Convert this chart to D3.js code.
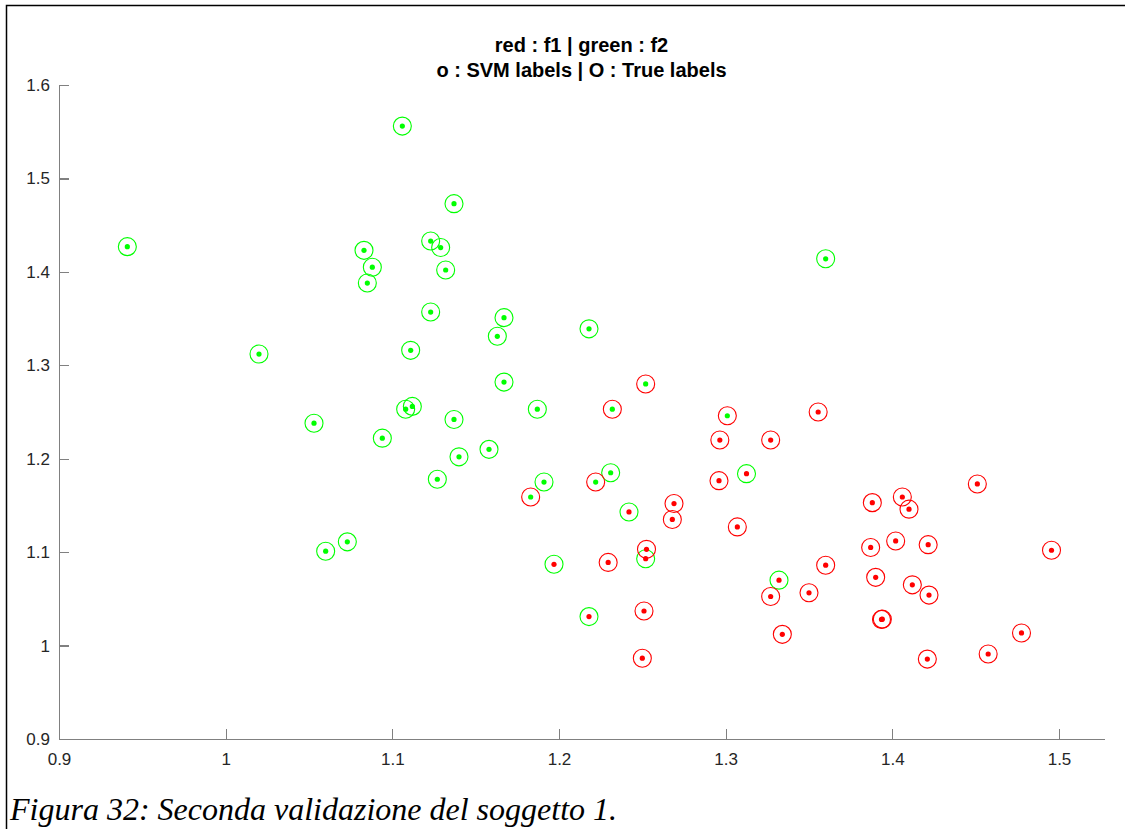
<!DOCTYPE html>
<html>
<head>
<meta charset="utf-8">
<script src="https://cdn.jsdelivr.net/npm/d3@7"></script>
<style>
  body { margin: 0; background: #fff; overflow: hidden; }
  svg { display: block; }
</style>
</head>
<body>
<script>
// data: feature values, SVM label and true label (1 = f1 red, 2 = f2 green)
var xVals = [0.941, 1.106, 1.137, 1.123, 1.129, 1.083, 1.088, 1.132, 1.085, 1.360,
             1.123, 1.167, 1.163, 1.020, 1.111, 1.167, 1.108, 1.112, 1.187, 1.053,
             1.137, 1.094, 1.140, 1.158, 1.127, 1.191, 1.060, 1.073, 1.218, 1.231,
             1.183, 1.252, 1.232, 1.301, 1.222,
             1.3125, 1.242, 1.252, 1.197, 1.332, 1.218,
             1.3555, 1.2965, 1.327, 1.296, 1.451, 1.388, 1.406, 1.410, 1.269, 1.268,
             1.307, 1.387, 1.402, 1.4215, 1.4955, 1.2525, 1.2295, 1.360, 1.390, 1.412,
             1.251, 1.250, 1.327, 1.350, 1.334, 1.3935, 1.394, 1.422, 1.421, 1.4575, 1.4775];
var yVals = [1.427, 1.556, 1.473, 1.433, 1.426, 1.423, 1.405, 1.402, 1.388, 1.414,
             1.357, 1.351, 1.331, 1.312, 1.316, 1.282, 1.253, 1.256, 1.253, 1.238,
             1.242, 1.222, 1.202, 1.210, 1.178, 1.175, 1.101, 1.111, 1.339, 1.185,
             1.159, 1.280, 1.253, 1.246, 1.175,
             1.184, 1.143, 1.093, 1.087, 1.070, 1.031,
             1.250, 1.220, 1.220, 1.1765, 1.173, 1.153, 1.159, 1.146, 1.152, 1.135,
             1.127, 1.105, 1.112, 1.108, 1.102, 1.103, 1.089, 1.086, 1.073, 1.065,
             1.037, 0.9865, 1.0525, 1.0565, 1.012, 1.028, 1.0283, 1.054, 0.9855, 0.991, 1.0135];
var svmLab = [2,2,2,2,2,2,2,2,2,2, 2,2,2,2,2,2,2,2,2,2, 2,2,2,2,2,2,2,2,2,2,
              2,2,2,2,2,
              1,1,1,1,1,1,
              1,1,1,1,1,1,1,1,1,1, 1,1,1,1,1,1,1,1,1,1, 1,1,1,1,1,1,1,1,1,1,1];
var trueLab = [2,2,2,2,2,2,2,2,2,2, 2,2,2,2,2,2,2,2,2,2, 2,2,2,2,2,2,2,2,2,2,
               1,1,1,1,1,
               2,2,2,2,2,2,
               1,1,1,1,1,1,1,1,1,1, 1,1,1,1,1,1,1,1,1,1, 1,1,1,1,1,1,1,1,1,1,1];
var xTicks = [0.9, 1, 1.1, 1.2, 1.3, 1.4, 1.5];
var yTicks = [0.9, 1, 1.1, 1.2, 1.3, 1.4, 1.5, 1.6];
var titleLines = ["red : f1 | green : f2", "o : SVM labels | O : True labels"];
var caption = "Figura 32: Seconda validazione del soggetto 1.";

var width = 1125, height = 829;
var colorOf = {1: "#ff0000", 2: "#00ff00"};

var svg = d3.select("body").append("svg")
    .attr("width", width)
    .attr("height", height);

// page frame (only top and left edges visible)
svg.append("rect")
    .attr("x", 6.5).attr("y", 5.5)
    .attr("width", 1300).attr("height", 1000)
    .attr("fill", "none")
    .attr("stroke", "#000")
    .attr("stroke-width", 1.5);

var x = d3.scaleLinear().domain([0.9, 1.527]).range([59, 1104]);
var y = d3.scaleLinear().domain([0.9, 1.6]).range([739, 85]);

var fmt = function(d){ return String(+d.toFixed(1)); };

var gx = svg.append("g")
    .attr("transform", "translate(0," + y(0.9) + ")")
    .call(d3.axisBottom(x).tickValues(xTicks).tickFormat(fmt)
        .tickSizeInner(-10).tickSizeOuter(0).tickPadding(14));
var gy = svg.append("g")
    .attr("transform", "translate(" + x(0.9) + ",0)")
    .call(d3.axisLeft(y).tickValues(yTicks).tickFormat(fmt)
        .tickSizeInner(-10).tickSizeOuter(0).tickPadding(9));

[gx, gy].forEach(function(g){
    g.selectAll("path, line").attr("stroke", "#808080").attr("stroke-width", 1.2)
        .attr("shape-rendering", "crispEdges");
    g.selectAll("text")
        .attr("fill", "#262626")
        .style("font-family", "'Liberation Sans', Arial, sans-serif")
        .style("font-size", "17px");
});

var pts = xVals.map(function(v, i){
    return {x: v, y: yVals[i], svm: svmLab[i], tru: trueLab[i]};
});

// big circles = true labels
svg.append("g").selectAll("circle")
    .data(pts).enter().append("circle")
    .attr("cx", function(d){ return x(d.x); })
    .attr("cy", function(d){ return y(d.y); })
    .attr("r", 9)
    .attr("fill", "none")
    .attr("stroke", function(d){ return colorOf[d.tru]; })
    .attr("stroke-width", 1.1);

// small dots = svm labels
svg.append("g").selectAll("circle")
    .data(pts).enter().append("circle")
    .attr("cx", function(d){ return x(d.x); })
    .attr("cy", function(d){ return y(d.y); })
    .attr("r", 2.6)
    .attr("fill", function(d){ return colorOf[d.svm]; });

// title
svg.append("g").selectAll("text")
    .data(titleLines).enter().append("text")
    .attr("x", (x.range()[0] + x.range()[1]) / 2)
    .attr("y", function(d, i){ return 52 + i * 25; })
    .attr("text-anchor", "middle")
    .style("font-family", "'Liberation Sans', Arial, sans-serif")
    .style("font-weight", "bold")
    .style("font-size", "20px")
    .attr("fill", "#000")
    .text(function(d){ return d; });

svg.append("text")
    .attr("x", 10)
    .attr("y", 820)
    .style("font-family", "'Liberation Serif', 'Times New Roman', serif")
    .style("font-style", "italic")
    .style("font-size", "32px")
    .attr("fill", "#000")
    .text(caption);
</script>
</body>
</html>
